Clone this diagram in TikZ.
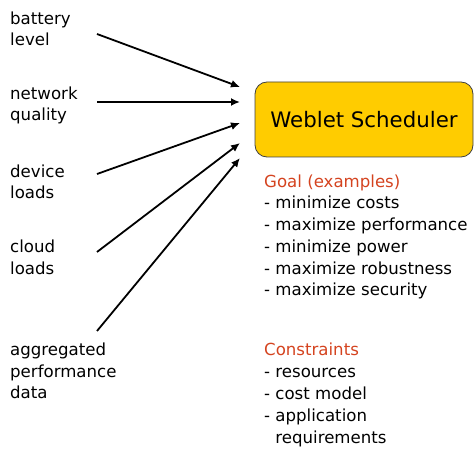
\documentclass[tikz,border=0pt]{standalone}
\usepackage{fontspec}
\setmainfont{DejaVu Sans}
\usetikzlibrary{arrows.meta}
\definecolor{schedfill}{HTML}{FFCC00}
\definecolor{headred}{HTML}{D4431F}
\begin{document}
\begin{tikzpicture}[x=1pt,y=-1pt,
  inlabel/.style={anchor=base west,align=left,inner sep=0pt,
    font=\fontsize{16.6}{21.8}\selectfont},
  listtext/.style={anchor=base west,align=left,inner sep=0pt,
    font=\fontsize{16.6}{21.8}\selectfont},
  feed/.style={line width=1.8pt,-{Latex[length=9pt,width=8pt]}},
  schedbox/.style={draw=black!75,line width=0.8pt,fill=schedfill,
    rounded corners=12pt,minimum width=218pt,minimum height=75pt,
    font=\fontsize{21.3}{25}\selectfont}]
\useasboundingbox (0,0) rectangle (475,452);

% scheduler
\node[schedbox] (sched) at (364,119.5) {Weblet Scheduler};

% inputs (anchored at the baseline of their last line)
\node[inlabel] (battery) at (10,46) {battery\\level};
\node[inlabel] (network) at (10,121) {network\\quality};
\node[inlabel] (device) at (10,199) {device\\loads};
\node[inlabel] (cloud) at (10,274) {cloud\\loads};
\node[inlabel] (aggr) at (10,399) {aggregated\\performance\\data};

% arrow tails and tips
\coordinate (t1) at (97,34);   \coordinate (h1) at (240,87);
\coordinate (t2) at (97,102);  \coordinate (h2) at (240,102);
\coordinate (t3) at (97,174);  \coordinate (h3) at (240,123);
\coordinate (t4) at (97,252);  \coordinate (h4) at (240,143);
\coordinate (t5) at (97,331);  \coordinate (h5) at (240,158);
\foreach \i in {1,...,5} \draw[feed] (t\i) -- (h\i);

% goals and constraints
\node[listtext] (goals) at (264,296) {\textcolor{headred}{Goal (examples)}\\
  - minimize costs\\- maximize performance\\- minimize power\\
  - maximize robustness\\- maximize security};
\node[listtext] (constr) at (264,443) {\textcolor{headred}{Constraints}\\
  - resources\\- cost model\\- application\\\phantom{- }requirements};
\end{tikzpicture}
\end{document}
